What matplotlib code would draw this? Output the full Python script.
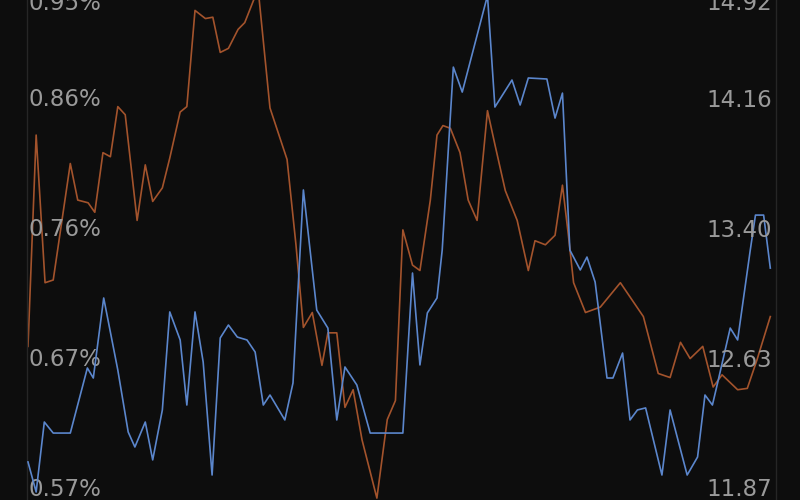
import matplotlib
matplotlib.use("Agg")
import matplotlib.pyplot as plt

# orange series, left axis (%)
t_rate = [0, 1.1, 2.3, 3.4, 5.7, 6.7, 8.1, 9.0, 10.1, 11.1, 12.1, 13.1, 14.7, 15.8,
          16.8, 18.1, 19.1, 20.5, 21.4, 22.5, 23.9, 24.9, 25.9, 27.0, 28.3, 29.2,
          31.0, 32.6, 34.9, 36.1, 37.1, 38.3, 39.6, 40.4, 41.6, 42.7, 43.8, 45.0,
          47.0, 48.4, 49.5, 50.5, 51.8, 52.8, 54.2, 55.1, 55.9, 56.9, 58.2, 59.3,
          60.5, 61.9, 62.9, 64.3, 65.9, 67.4, 68.3, 69.7, 71.0, 72.0, 72.8, 73.5,
          75.1, 77.1, 79.8, 82.9, 84.9, 86.5, 87.9, 89.2, 90.9, 92.3, 93.5, 95.6,
          96.9, 98.2, 100]
rate = [0.676, 0.832, 0.723, 0.725, 0.811, 0.784, 0.782, 0.775, 0.819, 0.816, 0.853,
        0.847, 0.769, 0.810, 0.783, 0.793, 0.815, 0.849, 0.853, 0.924, 0.918, 0.919,
        0.893, 0.896, 0.910, 0.915, 0.940, 0.852, 0.814, 0.751, 0.690, 0.701, 0.662,
        0.686, 0.686, 0.631, 0.644, 0.607, 0.564, 0.622, 0.636, 0.762, 0.736, 0.732,
        0.784, 0.832, 0.839, 0.837, 0.819, 0.784, 0.769, 0.850, 0.825, 0.791, 0.769,
        0.732, 0.754, 0.751, 0.758, 0.795, 0.758, 0.723, 0.701, 0.705, 0.723, 0.698,
        0.656, 0.653, 0.679, 0.667, 0.676, 0.646, 0.655, 0.644, 0.645, 0.666, 0.698]

# blue series, right axis
t_price = [0, 1.1, 2.2, 3.4, 5.7, 8.0, 8.8, 10.2, 12.1, 13.5, 14.4, 15.8, 16.8, 18.1,
           19.1, 20.5, 21.4, 22.5, 23.6, 24.8, 25.9, 27.0, 28.2, 29.5, 30.6, 31.7,
           32.6, 34.6, 35.7, 37.1, 38.9, 40.4, 41.6, 42.7, 44.3, 46.1, 50.5, 51.8,
           52.8, 53.8, 55.1, 55.8, 57.3, 58.5, 61.9, 62.9, 65.2, 66.3, 67.4, 69.9,
           71.0, 72.0, 73.0, 74.4, 75.3, 76.4, 78.0, 78.8, 80.1, 81.1, 82.1, 83.2,
           85.4, 86.5, 88.8, 90.2, 91.2, 92.2, 92.9, 94.6, 95.6, 97.3, 98.0, 99.1, 100]
price = [12.035, 11.858, 12.270, 12.205, 12.205, 12.588, 12.529, 13.000, 12.576,
         12.211, 12.123, 12.270, 12.047, 12.341, 12.918, 12.753, 12.370, 12.918,
         12.623, 11.958, 12.765, 12.841, 12.770, 12.753, 12.682, 12.370, 12.429,
         12.282, 12.500, 13.636, 12.929, 12.823, 12.282, 12.594, 12.488, 12.205,
         12.205, 13.147, 12.606, 12.912, 13.000, 13.282, 14.359, 14.212, 14.780,
         14.124, 14.283, 14.136, 14.295, 14.289, 14.059, 14.206, 13.282, 13.165,
         13.241, 13.094, 12.529, 12.529, 12.676, 12.282, 12.341, 12.353, 11.958,
         12.341, 11.958, 12.064, 12.429, 12.370, 12.500, 12.823, 12.753, 13.282,
         13.488, 13.488, 13.176]

left_ticks = [0.570, 0.666, 0.762, 0.858]
left_labels = ["0.57%", "0.67%", "0.76%", "0.86%"]
right_ticks = [11.87, 12.635, 13.40, 14.165]
right_labels = ["11.87", "12.63", "13.40", "14.16"]
top_left, top_right = "0.95%", "14.92"

bg = "#0d0d0d"
lab = "#9a9a9a"

fig = plt.figure(figsize=(8, 5), dpi=100, facecolor=bg)
ax = fig.add_axes([0, 0, 1, 1], facecolor=bg)
ax2 = ax.twinx()

ax.plot(t_rate, rate, color="#a3532c", lw=1.2)
ax2.plot(t_price, price, color="#5b86cc", lw=1.2)

ax.set_xlim(-3.77, 104.0)
ax.set_ylim(0.5626, 0.9317)
ax2.set_ylim(11.811, 14.754)

for a in (ax, ax2):
    for s in a.spines.values():
        s.set_visible(False)
    a.set_xticks([])
    a.set_yticks([])

ax.axvline(-0.13, color="#262626", lw=1)
ax.axvline(100.8, color="#262626", lw=1)

for v, s in zip(left_ticks, left_labels):
    ax.text(0.035, v, s, transform=ax.get_yaxis_transform(), ha="left", va="center",
            color=lab, fontsize=16.5)
for v, s in zip(right_ticks, right_labels):
    ax2.text(0.965, v, s, transform=ax2.get_yaxis_transform(), ha="right", va="center",
             color=lab, fontsize=16.5)
ax.text(0.035, 0.994, top_left, transform=ax.transAxes, ha="left", va="center",
        color=lab, fontsize=16.5)
ax.text(0.965, 0.994, top_right, transform=ax.transAxes, ha="right", va="center",
        color=lab, fontsize=16.5)

fig.savefig("out.png", dpi=100, facecolor=bg)
